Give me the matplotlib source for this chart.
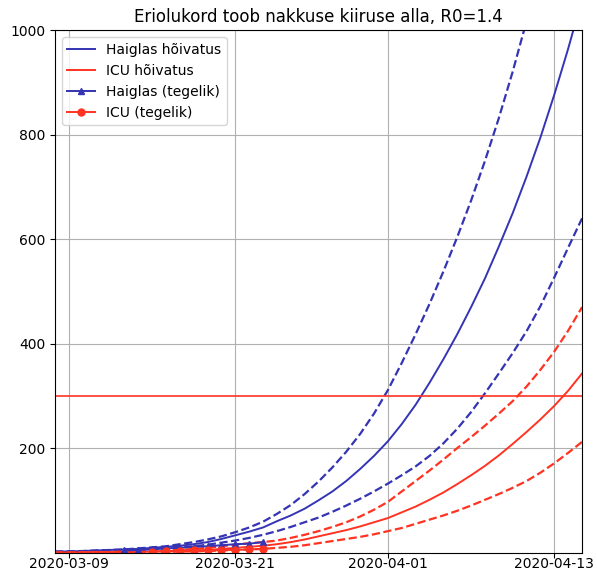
import pandas as pd
import matplotlib
matplotlib.use("Agg")
import matplotlib.pyplot as plt
import matplotlib.dates as mdates

# ===== andmed =====
dates = pd.date_range("2020-03-08", "2020-04-15", freq="D")

hosp_mid = [2, 2, 3, 4, 5, 6, 7, 9, 11, 13, 16, 20, 26, 33, 40, 48, 60, 71, 84, 100,
            117, 137, 160, 185, 213, 246, 283, 325, 370, 418, 470, 525, 586, 650, 720,
            795, 877, 965, 1060]
hosp_hi = [2, 2, 3, 4, 5, 6, 8, 10, 12, 16, 20, 25, 31, 39, 48, 59, 74, 91, 112, 136,
           163, 193, 227, 266, 311, 363, 418, 476, 538, 604, 674, 750, 832, 921, 1018,
           1122, 1235, 1355, 1485]
hosp_lo = [1, 2, 2, 3, 3, 4, 5, 6, 8, 10, 12, 15, 19, 23, 28, 34, 41, 49, 58, 67,
           78, 90, 103, 117, 132, 148, 165, 185, 209, 237, 269, 305, 343, 382, 424,
           472, 527, 584, 640]

icu_mid = [0, 0, 0, 1, 1, 1, 1, 2, 2, 3, 4, 5, 7, 9, 11, 13, 16, 20, 25, 31,
           37, 43, 50, 58, 66, 77, 88, 101, 115, 131, 148, 166, 186, 208, 231,
           255, 281, 310, 343]
icu_hi = [0, 0, 1, 1, 1, 2, 2, 3, 4, 5, 7, 9, 12, 15, 18, 20, 23, 28, 34, 41,
          49, 58, 69, 82, 97, 117, 137, 157, 178, 200, 221, 243, 266, 290, 318,
          350, 385, 425, 470]
icu_lo = [0, 0, 0, 0, 1, 1, 1, 1, 1, 2, 2, 3, 4, 5, 6, 7, 9, 11, 14, 18,
          22, 26, 30, 35, 41, 47, 55, 63, 71, 80, 90, 101, 112, 124, 137,
          153, 171, 191, 212]

hosp_real_dates = pd.date_range("2020-03-13", "2020-03-23", freq="D")
hosp_real = [4, 5, 6, 8, 9, 11, 12, 14, 16, 17, 20]
icu_real_dates = pd.date_range("2020-03-15", "2020-03-23", freq="D")
icu_real = [2, 3, 3, 4, 4, 5, 5, 6, 7]

icu_capacity = 300
xtick_dates = pd.to_datetime(["2020-03-09", "2020-03-21", "2020-04-01", "2020-04-13"])

blue = "#3434b4"
red = "#ff3322"

# ===== joonis =====
fig, ax = plt.subplots(figsize=(5.97, 5.72), dpi=100)
fig.subplots_adjust(left=0.092, right=0.975, top=0.947, bottom=0.034)

ax.plot(dates, hosp_mid, color=blue, lw=1.4, label="Haiglas hõivatus")
ax.plot(dates, hosp_hi, color=blue, lw=1.6, ls="--")
ax.plot(dates, hosp_lo, color=blue, lw=1.6, ls="--")
ax.plot(dates, icu_mid, color=red, lw=1.4, label="ICU hõivatus")
ax.plot(dates, icu_hi, color=red, lw=1.6, ls="--")
ax.plot(dates, icu_lo, color=red, lw=1.6, ls="--")
ax.axhline(icu_capacity, color=red, lw=1.2)

ax.plot(hosp_real_dates, hosp_real, color=blue, marker="^", ms=5, lw=1.4,
        label="Haiglas (tegelik)")
ax.plot(icu_real_dates, icu_real, color=red, marker="o", ms=5, lw=1.4,
        label="ICU (tegelik)")

ax.set_xlim(dates[0], dates[-1])
ax.set_ylim(0, 1000)
ax.set_yticks([200, 400, 600, 800, 1000])
ax.set_xticks(xtick_dates)
ax.xaxis.set_major_formatter(mdates.DateFormatter("%Y-%m-%d"))
ax.tick_params(labelsize=10)
ax.tick_params(axis="x", pad=0)

ax.set_title("Eriolukord toob nakkuse kiiruse alla, R0=1.4", fontsize=12)
ax.grid(True)
ax.legend(loc="upper left", fontsize=10)

plt.savefig("out.png", dpi=100)
